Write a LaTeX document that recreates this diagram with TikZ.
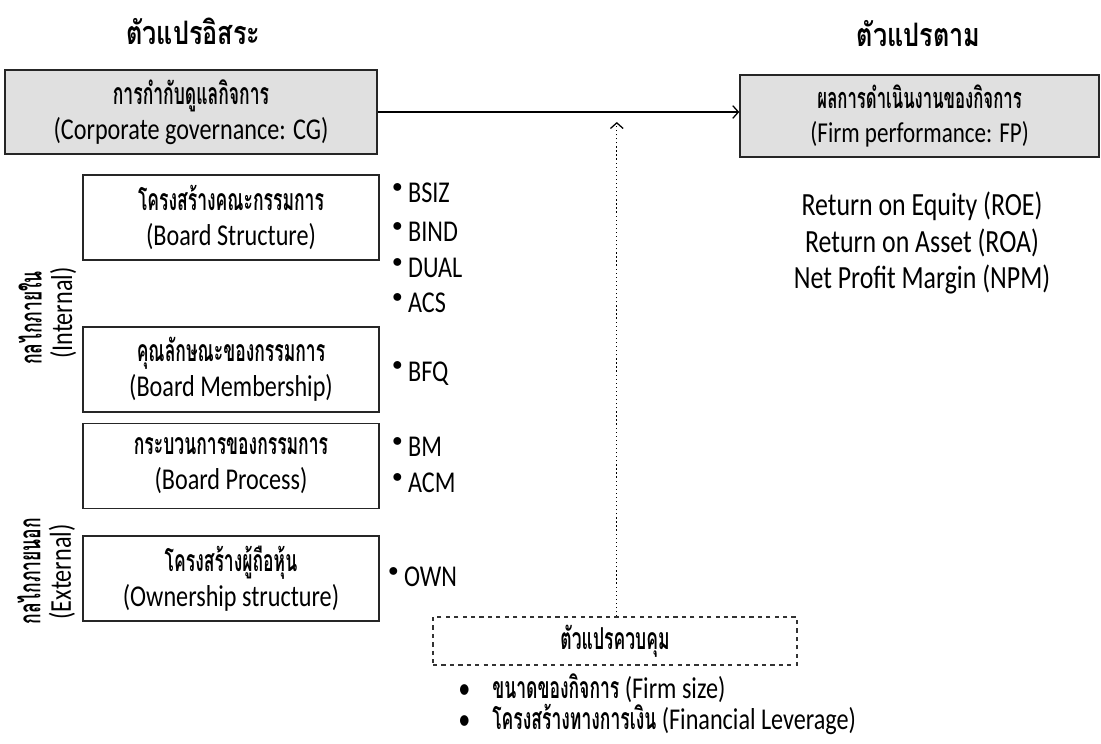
\documentclass[tikz,border=0pt]{standalone}
\usepackage{fontspec}
\setmainfont{Carlito}[FakeStretch=0.8]
\newfontfamily\thaifont[Script=Thai, Scale=1.0, FakeStretch=0.58]{Loma}
\newfontfamily\thaititlefont[Script=Thai, FakeStretch=0.78]{Loma}
\usetikzlibrary{arrows, arrows.meta, positioning}
\newcommand{\bodysize}{\fontsize{21.5}{25}\selectfont}
\newcommand{\titlesize}{\fontsize{23}{27}\selectfont}
\newcommand{\thb}[1]{{\thaifont\bfseries #1}}

\begin{document}
\begin{tikzpicture}[
    node distance=0.9cm,
    >={Straight Barb[length=4pt, width=9pt]},
    mainbox/.style={rectangle, draw=black!85, fill=black!12, line width=1.2pt, minimum width=9.3cm, minimum height=2.1cm, align=center, font=\bodysize},
    groupbox/.style={rectangle, draw=black!85, line width=1.2pt, minimum width=7.4cm, minimum height=2.125cm, align=center, font=\bodysize},
    item/.style={anchor=west, inner sep=0pt, font=\bodysize},
    title/.style={font=\titlesize\thaititlefont\bfseries},
    side/.style={rotate=90, inner sep=0pt, font=\bodysize}
]
\useasboundingbox (0,0) rectangle (27.525,-18.575);

% Titles
\node[title] (indtitle) at (4.83,-0.78) {ตัวแปรอิสระ};
\node[title] (deptitle) at (22.96,-0.83) {ตัวแปรตาม};

% Main variables
\node[mainbox] (cg) at (4.775,-2.8) {\thb{การกำกับดูแลกิจการ}\\(Corporate governance: CG)};
\node[mainbox, minimum width=8.975cm, minimum height=2.05cm, font=\fontsize{20.5}{24}\selectfont] (fp) at (22.99,-2.9) {\thb{ผลการดำเนินงานของกิจการ}\\(Firm performance: FP)};
\draw[->, line width=0.9pt] (cg.east) -- (cg.east -| fp.west);

\node[align=center, font=\fontsize{23}{26}\selectfont] (measures) at (23.05,-6.08) {Return on Equity (ROE)\\Return on Asset (ROA)\\Net Profit Margin (NPM)};

% Mechanisms
\node[groupbox] (bs) at (5.775,-5.44) {\thb{โครงสร้างคณะกรรมการ}\\(Board Structure)};
\node[groupbox] (bm) [below=1.625cm of bs] {\thb{คุณลักษณะของกรรมการ}\\(Board Membership)};
\node[groupbox] (bp) [below=0.25cm of bm] {\thb{กระบวนการของกรรมการ}\\(Board Process)};
\node[groupbox] (own) [below=0.65cm of bp] {\thb{โครงสร้างผู้ถือหุ้น}\\(Ownership structure)};

\node[side] (intth) at (0.75,-7.95) {\thb{กลไกภายใน}};
\node[side] (inten) at (1.58,-7.83) {(Internal)};
\node[side] (extth) at (0.72,-14.28) {\thb{กลไกภายนอก}};
\node[side] (exten) at (1.55,-14.3) {(External)};

% Proxies
\foreach \name/\y in {BSIZ/-4.83, BIND/-5.8, DUAL/-6.7, ACS/-7.58, BFQ/-9.33, BM/-11.18, ACM/-12.08}
    \node[item] (\name) at (9.8,\y) {$^\bullet$\,\name};
\node[item] (OWN) at (9.7,-14.43) {$^\bullet$\,OWN};

% Control variables
\node[rectangle, draw=black!80, dashed, line width=0.9pt, minimum width=9.1cm, minimum height=1.2cm, font=\bodysize] (ctrl) at (15.375,-16.025) {\thb{ตัวแปรควบคุม}};
\coordinate (tip) at (15.42,-3.05);
\draw[->, dotted, line width=0.9pt] (ctrl.north -| tip) -- (tip);

\node[item] (size) at (11.45,-17.2) {\textbullet\hspace{0.55cm}\thb{ขนาดของกิจการ} (Firm size)};
\node[item] (lev) at (11.45,-17.98) {\textbullet\hspace{0.55cm}\thb{โครงสร้างทางการเงิน} (Financial Leverage)};

\end{tikzpicture}
\end{document}
